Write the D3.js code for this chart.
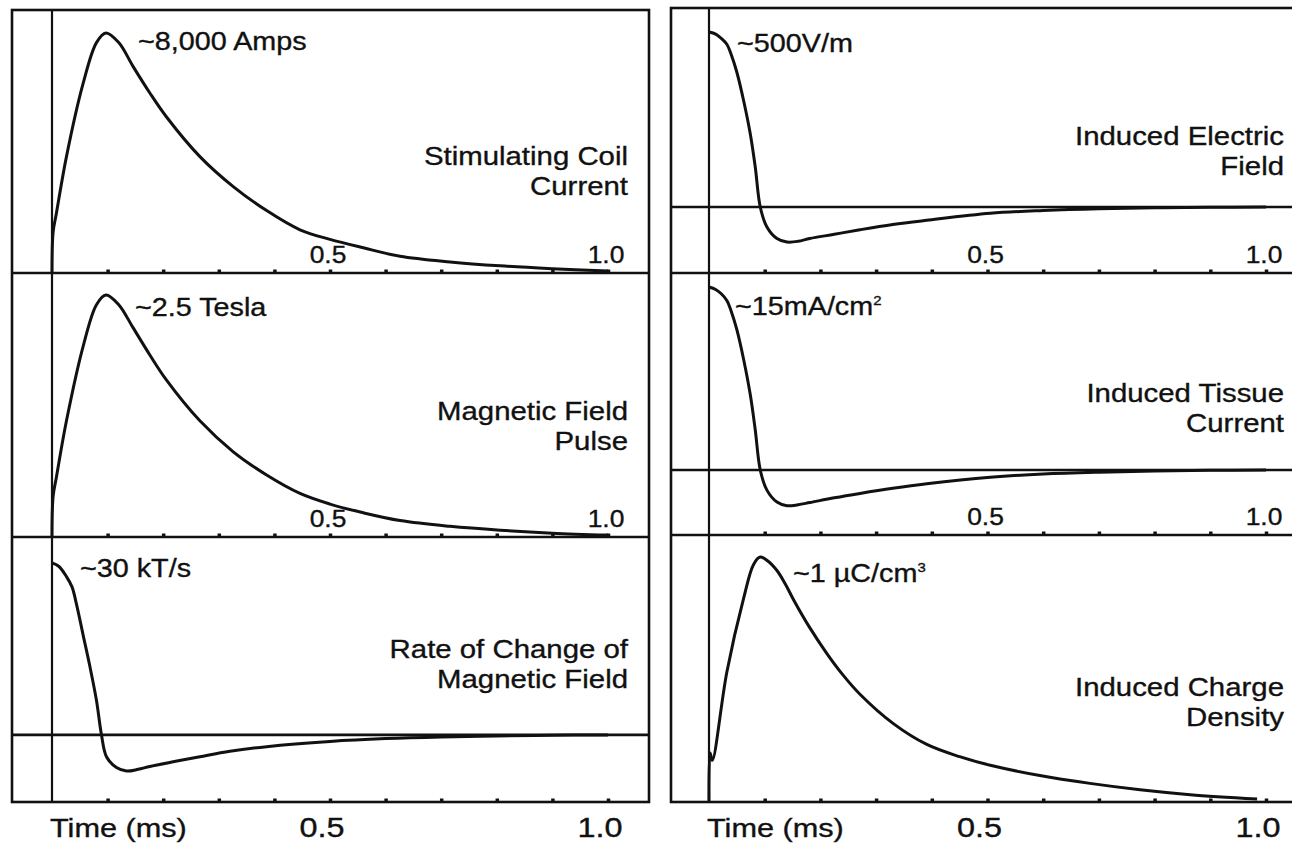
<!DOCTYPE html>
<html>
<head>
<meta charset="utf-8">
<script src="https://cdn.jsdelivr.net/npm/d3@7"></script>
<style>
  body { margin: 0; background: #fff; }
  text { font-family: "Liberation Sans", Arial, Helvetica, sans-serif; fill: #111; stroke: #111; stroke-width: 0.35px; }
</style>
</head>
<body>
<script>
// ! Data (time in ms)
const coilTime = [0, 0.002, 0.008, 0.026, 0.056, 0.08, 0.097, 0.12, 0.146, 0.176, 0.206, 0.266, 0.326, 0.386, 0.446, 0.5, 0.56, 0.626, 0.716, 0.806, 0.9, 1.0];
const coilAmps = [0, 1360, 2000, 3880, 6320, 7680, 8000, 7680, 6880, 6000, 5200, 3880, 2880, 2080, 1440, 1120, 840, 560, 370, 240, 145, 65];

const fieldTime = [0, 0.002, 0.008, 0.026, 0.056, 0.08, 0.097, 0.12, 0.146, 0.176, 0.206, 0.266, 0.326, 0.386, 0.446, 0.5, 0.56, 0.626, 0.716, 0.806, 0.9, 1.0];
const fieldTesla = [0, 0.42, 0.62, 1.2, 1.97, 2.4, 2.5, 2.4, 2.16, 1.88, 1.62, 1.2, 0.88, 0.64, 0.45, 0.34, 0.25, 0.17, 0.11, 0.07, 0.04, 0.02];

const dbdtTime = [0, 0.012, 0.026, 0.036, 0.044, 0.056, 0.068, 0.08, 0.089, 0.098, 0.116, 0.134, 0.155, 0.176, 0.22, 0.266, 0.32, 0.386, 0.5, 0.6, 0.7, 0.8, 0.9, 1.0];
const dbdtKTs = [30, 29.4, 27.6, 25.8, 22.8, 17.4, 12, 6, 0, -3.8, -5.7, -6.3, -6, -5.5, -4.65, -3.8, -2.85, -2.05, -1.15, -0.65, -0.35, -0.18, -0.06, 0];

const efieldTime = [0, 0.012, 0.022, 0.032, 0.04, 0.05, 0.062, 0.074, 0.083, 0.092, 0.104, 0.122, 0.14, 0.16, 0.181, 0.225, 0.271, 0.33, 0.391, 0.505, 0.6, 0.7, 0.8, 0.9, 1.0];
const efieldVm = [500, 494, 482, 465, 435, 385, 305, 210, 115, 0, -57, -90, -100, -98, -90, -78, -65, -50, -38, -18, -10, -5, -2.5, -1, 0];

const tissueTime = [0, 0.012, 0.022, 0.032, 0.04, 0.05, 0.062, 0.074, 0.083, 0.092, 0.104, 0.122, 0.14, 0.16, 0.181, 0.225, 0.271, 0.33, 0.391, 0.505, 0.6, 0.7, 0.8, 0.9, 1.0];
const tissueMa = [15, 14.8, 14.45, 13.9, 13, 11.5, 9.1, 6.2, 3.3, 0, -1.65, -2.63, -2.93, -2.85, -2.67, -2.28, -1.92, -1.5, -1.13, -0.6, -0.33, -0.18, -0.09, -0.03, 0];

const chargeTime = [0, 0.002, 0.006, 0.032, 0.062, 0.08, 0.092, 0.105, 0.122, 0.137, 0.152, 0.18, 0.212, 0.24, 0.271, 0.331, 0.391, 0.45, 0.505, 0.594, 0.684, 0.774, 0.864, 0.984];
const chargeUc = [0, 0.2, 0.17, 0.53, 0.83, 0.97, 1.0, 0.985, 0.945, 0.89, 0.825, 0.715, 0.605, 0.52, 0.44, 0.32, 0.235, 0.185, 0.15, 0.108, 0.076, 0.05, 0.03, 0.012];

const tickTimes = [0.1, 0.2, 0.3, 0.4, 0.5, 0.6, 0.7, 0.8, 0.9, 1.0];
const tickLabels = [0.5, 1.0];

// ! Layout
const width = 1292;
const height = 843;
const columns = [
  { x0: 12, x1: 649, t0: 52, t1: 608, rows: [10, 273, 537, 802] },
  { x0: 671, x1: 1300, t0: 709, t1: 1266, rows: [8, 273, 535, 802] },
];

const panels = [
  { col: 0, row: 0, time: coilTime, vals: coilAmps, domain: [0, 8767],
    note: ["~8,000 Amps"], noteX: 138, noteY: 50, title: ["Stimulating Coil", "Current"], titleY: 165 },
  { col: 0, row: 1, time: fieldTime, vals: fieldTesla, domain: [0, 2.727],
    note: ["~2.5 Tesla"], noteX: 135, noteY: 316, title: ["Magnetic Field", "Pulse"], titleY: 420 },
  { col: 0, row: 2, time: dbdtTime, vals: dbdtKTs, domain: [-11.7, 34.5], zero: true,
    note: ["~30 kT/s"], noteX: 80, noteY: 577, title: ["Rate of Change of", "Magnetic Field"], titleY: 658 },
  { col: 1, row: 0, time: efieldTime, vals: efieldVm, domain: [-188.6, 568.6], zero: true,
    note: ["~500V/m"], noteX: 737, noteY: 52, title: ["Induced Electric", "Field"], titleY: 145 },
  { col: 1, row: 1, time: tissueTime, vals: tissueMa, domain: [-5.33, 16.15], zero: true,
    note: ["~15mA/cm", "2"], noteX: 735, noteY: 315, title: ["Induced Tissue", "Current"], titleY: 402 },
  { col: 1, row: 2, time: chargeTime, vals: chargeUc, domain: [0, 1.09],
    note: ["~1 \u00b5C/cm", "3"], noteX: 793, noteY: 582, title: ["Induced Charge", "Density"], titleY: 696 },
];

const svg = d3
  .select("body")
  .append("svg")
  .attr("width", width)
  .attr("height", height)
  .style("background-color", "white");

// text is slightly wider than Liberation Sans, so stretch it horizontally
const addText = (x, y, str, size, anchor, sx) =>
  svg
    .append("text")
    .attr("transform", `translate(${x},${y}) scale(${sx},1)`)
    .attr("text-anchor", anchor)
    .style("font-size", size + "px")
    .text(str);

// ! Frames, row separators and t = 0 line
columns.forEach((c) => {
  svg
    .append("rect")
    .attr("x", c.x0)
    .attr("y", c.rows[0])
    .attr("width", c.x1 - c.x0)
    .attr("height", c.rows[3] - c.rows[0])
    .attr("fill", "none")
    .attr("stroke", "#111")
    .attr("stroke-width", 2.6);
  c.rows.slice(1, 3).forEach((y) => {
    svg.append("line")
      .attr("x1", c.x0).attr("x2", c.x1)
      .attr("y1", y).attr("y2", y)
      .attr("stroke", "#111").attr("stroke-width", 2.6);
  });
  svg.append("line")
    .attr("x1", c.t0).attr("x2", c.t0)
    .attr("y1", c.rows[0]).attr("y2", c.rows[3])
    .attr("stroke", "#111").attr("stroke-width", 2.2);
});

// ! Panels
panels.forEach((p) => {
  const c = columns[p.col];
  const top = c.rows[p.row];
  const bottom = c.rows[p.row + 1];
  const xScale = d3.scaleLinear().domain([0, 1]).range([c.t0, c.t1]);
  const yScale = d3.scaleLinear().domain(p.domain).range([bottom, top]);

  // small upward ticks on the panel's bottom line
  const axisG = svg
    .append("g")
    .attr("transform", `translate(0, ${bottom})`)
    .call(
      d3.axisBottom(xScale).tickValues(tickTimes).tickSizeInner(-3.5).tickSizeOuter(0).tickFormat("")
    );
  axisG.select(".domain").remove();
  axisG.selectAll(".tick line").attr("stroke", "#111").attr("stroke-width", 3.5);

  if (p.zero) {
    svg.append("line")
      .attr("x1", c.x0).attr("x2", c.x1)
      .attr("y1", yScale(0)).attr("y2", yScale(0))
      .attr("stroke", "#111").attr("stroke-width", 2.6);
  }

  const line = d3
    .line()
    .x((d) => xScale(d[0]))
    .y((d) => yScale(d[1]))
    .curve(d3.curveCatmullRom.alpha(0.5));

  svg
    .append("path")
    .datum(d3.zip(p.time, p.vals))
    .attr("d", line)
    .attr("fill", "none")
    .attr("stroke", "#111")
    .attr("stroke-width", 3)
    .attr("stroke-linejoin", "round");

  // peak annotation (with optional superscript)
  const note = addText(p.noteX, p.noteY, p.note[0], 25, "start", 1.15);
  if (p.note[1]) {
    note.append("tspan")
      .attr("dy", -10)
      .style("font-size", "13px")
      .text(p.note[1]);
  }

  // title on the right
  const titleRight = p.col === 0 ? 628 : 1284;
  p.title.forEach((s, i) => addText(titleRight, p.titleY + i * 30, s, 26, "end", 1.13));

  // tick labels
  if (p.row < 2) {
    tickLabels.forEach((v) =>
      addText(xScale(v) - 2, bottom - 10, v.toFixed(1), 24, "middle", 1.1)
    );
  } else {
    tickLabels.forEach((v) =>
      addText(xScale(v) - 8, 837, v.toFixed(1), 27, "middle", 1.2)
    );
    addText(c.t0 - 2, 837, "Time (ms)", 26, "start", 1.18);
  }
});
</script>
</body>
</html>
